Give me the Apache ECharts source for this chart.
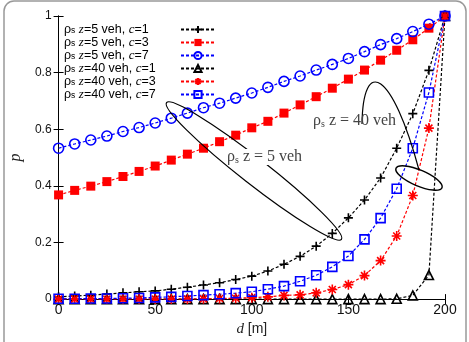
<!DOCTYPE html>
<html>
<head>
<meta charset="utf-8">
<script src="https://cdn.jsdelivr.net/npm/echarts@6/dist/echarts.min.js"></script>
<style>
  html, body { margin: 0; padding: 0; background: #fff; }
  #main { width: 469px; height: 342px; }
</style>
</head>
<body>
<div id="main"></div>
<script>
var dist = [0, 8.33, 16.67, 25, 33.33, 41.67, 50, 58.33, 66.67, 75, 83.33, 91.67, 100,
    108.33, 116.67, 125, 133.33, 141.67, 150, 158.33, 166.67, 175, 183.33, 191.67, 200];

// rho_s z = 5 veh
var z5c1 = [0.008, 0.011, 0.014, 0.018, 0.022, 0.026, 0.029, 0.035, 0.042, 0.050, 0.058, 0.069, 0.081,
    0.099, 0.123, 0.151, 0.187, 0.232, 0.287, 0.350, 0.428, 0.533, 0.655, 0.808, 1.0];
var z5c3 = [0.368, 0.384, 0.399, 0.415, 0.433, 0.451, 0.470, 0.491, 0.512, 0.533, 0.556, 0.579, 0.605,
    0.628, 0.657, 0.686, 0.715, 0.745, 0.777, 0.809, 0.844, 0.879, 0.916, 0.957, 1.0];
var z5c7 = [0.533, 0.548, 0.562, 0.576, 0.592, 0.606, 0.622, 0.639, 0.657, 0.676, 0.692, 0.710, 0.728,
    0.748, 0.769, 0.788, 0.809, 0.829, 0.850, 0.874, 0.899, 0.920, 0.945, 0.971, 1.0];
// rho_s z = 40 veh
var z40c1 = [0, 0, 0, 0, 0, 0, 0, 0, 0, 0, 0, 0, 0,
    0, 0, 0, 0, 0, 0, 0, 0, 0.001, 0.013, 0.085, 1.0];
var z40c3 = [0, 0, 0, 0, 0, 0, 0, 0, 0, 0.001, 0.002, 0.003, 0.005,
    0.008, 0.013, 0.015, 0.022, 0.034, 0.051, 0.083, 0.136, 0.223, 0.366, 0.604, 1.0];
var z40c7 = [0.001, 0.001, 0.002, 0.002, 0.003, 0.004, 0.006, 0.008, 0.011, 0.014, 0.017, 0.021, 0.026,
    0.035, 0.046, 0.063, 0.084, 0.114, 0.152, 0.211, 0.286, 0.390, 0.533, 0.730, 1.0];

var xTicks = [0, 50, 100, 150, 200];
var yTicks = [0, 0.2, 0.4, 0.6, 0.8, 1];

var legendText = {
    z5c1: ['5', '1'], z5c3: ['5', '3'], z5c7: ['5', '7'],
    z40c1: ['40', '1'], z40c3: ['40', '3'], z40c7: ['40', '7']
};

function pairs(ys) {
    return ys.map(function (y, i) { return [dist[i], y]; });
}

var plusPath = 'path://M0,5L10,5M5,0L5,10';
var starPath = 'path://M0,5L10,5M5,0L5,10M1.5,1.5L8.5,8.5M8.5,1.5L1.5,8.5';

function line(name, data, color, symbol, size, filled) {
    return {
        name: name,
        type: 'line',
        data: pairs(data),
        symbol: symbol,
        symbolSize: size,
        showAllSymbol: true,
        lineStyle: { color: color, width: 1.2, type: [3, 2] },
        itemStyle: filled ? { color: color, borderWidth: 0 }
            : { color: 'transparent', borderColor: color, borderWidth: 1.6 },
        emphasis: { disabled: true },
        animation: false
    };
}

var myChart = echarts.init(document.getElementById('main'));
var font = 'Liberation Sans';
var serif = 'Liberation Serif';

var option = {
    animation: false,
    grid: { left: 54, right: 24, top: 16, bottom: 39 },
    legend: {
        orient: 'vertical',
        left: 59,
        top: 18,
        align: 'right',
        itemWidth: 34,
        itemHeight: 9,
        itemGap: 0,
        selectedMode: false,
        formatter: function (name) {
            var t = legendText[name];
            return '{n|ρ}{s|s}{n| }{i|z}{n|=' + t[0] + ' veh, }{i|c}{n|=' + t[1] + '}';
        },
        textStyle: {
            width: 112,
            align: 'left',
            color: '#000',
            rich: {
                n: { fontFamily: font, fontSize: 12.5, color: '#000', align: 'left', lineHeight: 12 },
                s: { fontFamily: font, fontSize: 8.5, color: '#000', align: 'left',
                     lineHeight: 8, verticalAlign: 'bottom' },
                i: { fontFamily: serif, fontStyle: 'italic', fontSize: 13, color: '#000',
                     align: 'left', lineHeight: 12 }
            }
        }
    },
    xAxis: [{
        type: 'value', min: 0, max: 200, interval: 50,
        name: '{i|d} [m]', nameLocation: 'middle', nameGap: 20,
        nameTextStyle: {
            fontFamily: font, fontSize: 14, color: '#222',
            rich: { i: { fontFamily: serif, fontStyle: 'italic', fontSize: 15, color: '#222' } }
        },
        axisLine: { lineStyle: { color: '#000', width: 1 } },
        axisTick: { inside: true, length: 5, lineStyle: { color: '#000' } },
        axisLabel: { margin: 4, fontFamily: font, fontSize: 14, color: '#111',
            formatter: function (v) { return xTicks.indexOf(v) >= 0 ? String(v) : ''; } },
        splitLine: { show: false }
    }, {
        type: 'value', min: 0, max: 200, interval: 50, position: 'top',
        axisLine: { lineStyle: { color: '#000', width: 1 } },
        axisTick: { inside: true, length: 5, lineStyle: { color: '#000' } },
        axisLabel: { show: false },
        splitLine: { show: false }
    }],
    yAxis: [{
        type: 'value', min: 0, max: 1, interval: 0.2,
        name: 'p', nameLocation: 'middle', nameGap: 33, nameRotate: 90,
        nameTextStyle: { fontFamily: serif, fontStyle: 'italic', fontSize: 16, color: '#222' },
        axisLine: { show: true, lineStyle: { color: '#000', width: 1 } },
        axisTick: { show: true, inside: true, length: 5, lineStyle: { color: '#000' } },
        axisLabel: { margin: 7, fontFamily: font, fontSize: 12, color: '#111',
            formatter: function (v) {
                var k = yTicks.indexOf(Math.round(v * 10) / 10);
                return k >= 0 ? String(yTicks[k]) : '';
            } },
        splitLine: { show: false }
    }, {
        type: 'value', min: 0, max: 1, interval: 0.2, position: 'right',
        axisLine: { show: true, lineStyle: { color: '#000', width: 1 } },
        axisTick: { show: true, inside: true, length: 5, lineStyle: { color: '#000' } },
        axisLabel: { show: false },
        splitLine: { show: false }
    }],
    series: [
        line('z5c1', z5c1, '#000000', plusPath, 9, false),
        line('z5c3', z5c3, '#ff0000', 'rect', 9, true),
        line('z5c7', z5c7, '#0000ff', 'circle', 10, false),
        line('z40c1', z40c1, '#000000', 'triangle', 9, false),
        line('z40c3', z40c3, '#ff0000', starPath, 10, false),
        line('z40c7', z40c7, '#0000ff', 'rect', 9, false)
    ],
    graphic: [
        // outer frame
        { type: 'rect', shape: { x: 4, y: 1, width: 462, height: 352, r: 10 },
          style: { fill: 'none', stroke: '#999', lineWidth: 1.5 }, silent: true },
        // rho_s z = 5 veh
        { type: 'ellipse', shape: { cx: 254, cy: 171, rx: 111, ry: 13 },
          originX: 254, originY: 171, rotation: -38 * Math.PI / 180,
          style: { fill: 'none', stroke: '#000', lineWidth: 1.2 }, silent: true, z: 10 },
        { type: 'text', x: 227, y: 149, z: 11,
          style: {
              text: '{a|ρ}{s|s}{a| z = 5 veh}', backgroundColor: '#fff',
              rich: {
                  a: { fontFamily: serif, fontSize: 16, fill: '#444' },
                  s: { fontFamily: serif, fontSize: 10, fill: '#444', padding: [6, 0, 0, 0] }
              }
          }, silent: true },
        // rho_s z = 40 veh
        { type: 'bezierCurve',
          shape: { x1: 362, y1: 124, cpx1: 363, cpy1: 56, cpx2: 392, cpy2: 70, x2: 419, y2: 170 },
          style: { fill: 'none', stroke: '#000', lineWidth: 1.2 }, silent: true, z: 10 },
        { type: 'ellipse', shape: { cx: 419, cy: 178, rx: 25, ry: 8 },
          originX: 419, originY: 178, rotation: -23 * Math.PI / 180,
          style: { fill: 'none', stroke: '#000', lineWidth: 1.5 }, silent: true, z: 10 },
        { type: 'text', x: 313, y: 113, z: 11,
          style: {
              text: '{a|ρ}{s|s}{a| z = 40 veh}',
              rich: {
                  a: { fontFamily: serif, fontSize: 16, fill: '#444' },
                  s: { fontFamily: serif, fontSize: 10, fill: '#444', padding: [6, 0, 0, 0] }
              }
          }, silent: true }
    ]
};

myChart.setOption(option);
</script>
</body>
</html>
